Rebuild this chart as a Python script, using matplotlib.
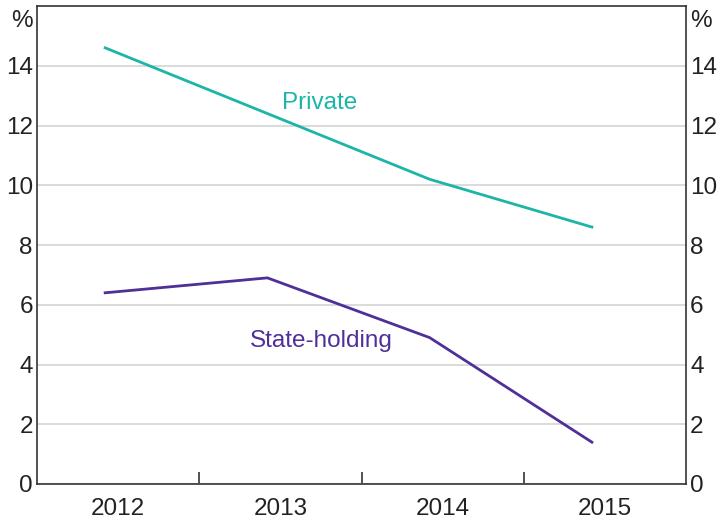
import numpy as np
import matplotlib.pyplot as plt

plt.rcParams['font.family'] = ['Liberation Sans', 'DejaVu Sans']

years = ['2012', '2013', '2014', '2015']
private = [14.6, 12.4, 10.2, 8.6]
state_holding = [6.4, 6.9, 4.9, 1.4]

teal = '#1cb5a8'
purple = '#4f2f98'
fs = 17.5

fig = plt.figure(figsize=(7.19, 5.22), dpi=100)
ax = fig.add_axes([37 / 719, 38 / 522, 649 / 719, 478 / 522])

x = np.arange(len(years)) + 0.5 - 0.08
ax.plot(x, private, color=teal, lw=2)
ax.plot(x, state_holding, color=purple, lw=2)

ax.text(1.74, 12.75, 'Private', color=teal, fontsize=fs, ha='center', va='center')
ax.text(1.75, 4.78, 'State-holding', color=purple, fontsize=fs, ha='center', va='center')

ax.set_xlim(0, 4)
ax.set_ylim(0, 16)
ax.set_yticks(np.arange(0, 16, 2))
ax.set_yticklabels([str(v) for v in range(0, 16, 2)])
ax.yaxis.grid(True, color='#d4d4d4', lw=1.2)
ax.set_axisbelow(True)

ax.set_xticks(np.arange(len(years)) + 0.5)
ax.set_xticklabels(years)
ax.set_xticks([1, 2, 3], minor=True)
ax.tick_params(axis='x', which='major', length=0, pad=10, labelsize=fs, colors='#222222')
ax.tick_params(axis='x', which='minor', direction='in', length=9, width=1.2, color='#333333')
ax.tick_params(axis='y', length=0, pad=3, labelsize=fs, colors='#222222',
               labelright=True, right=False)

for s in ax.spines.values():
    s.set_color('#333333')
    s.set_linewidth(1.2)

ax.text(-0.006, 15.5, '%', transform=ax.get_yaxis_transform(), ha='right', va='center',
        fontsize=fs, color='#222222')
ax.text(1.006, 15.5, '%', transform=ax.get_yaxis_transform(), ha='left', va='center',
        fontsize=fs, color='#222222')

fig.savefig('out.png', dpi=100)
